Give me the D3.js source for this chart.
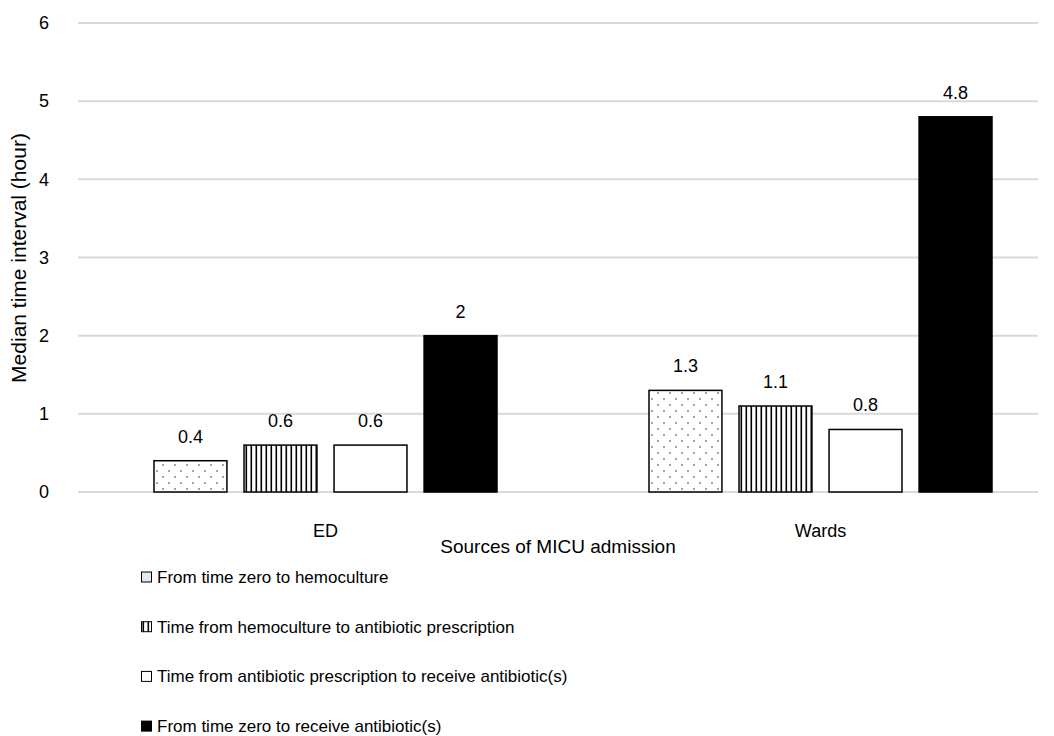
<!DOCTYPE html>
<meta charset="utf-8">
<script src="https://d3js.org/d3.v7.min.js"></script>
<style>
body { margin: 0; background: #fff; }
text { font-family: "Liberation Sans", Arial, sans-serif; fill: #000; }
</style>
<div id="chart"></div>
<script>

// data
var sources = ["ED", "Wards"];
var series = [
  "From time zero to hemoculture",
  "Time from hemoculture to antibiotic prescription",
  "Time from antibiotic prescription to receive antibiotic(s)",
  "From time zero to receive antibiotic(s)"
];
var edValues = [0.4, 0.6, 0.6, 2];
var wardsValues = [1.3, 1.1, 0.8, 4.8];
var yTicks = [0, 1, 2, 3, 4, 5, 6];

var width = 1054, height = 736;

var svg = d3.select("#chart").append("svg")
  .attr("width", width)
  .attr("height", height);

// patterns for the bar fills
var defs = svg.append("defs");
var dots = defs.append("pattern")
  .attr("id", "dots")
  .attr("patternUnits", "userSpaceOnUse")
  .attr("width", 12).attr("height", 12);
dots.append("rect").attr("width", 12).attr("height", 12).attr("fill", "#fff");
dots.append("circle").attr("cx", 3).attr("cy", 3).attr("r", 0.8).attr("fill", "#333");
dots.append("circle").attr("cx", 9).attr("cy", 9).attr("r", 0.8).attr("fill", "#333");

var stripes = defs.append("pattern")
  .attr("id", "stripes")
  .attr("patternUnits", "userSpaceOnUse")
  .attr("width", 5).attr("height", 10);
stripes.append("rect").attr("width", 5).attr("height", 10).attr("fill", "#fff");
stripes.append("rect").attr("x", 1.5).attr("width", 1.6).attr("height", 10).attr("fill", "#000");

var fills = ["url(#dots)", "url(#stripes)", "#fff", "#000"];

// scales
var y = d3.scaleLinear().domain([0, 6]).range([492, 23]);
var x0 = d3.scaleBand().domain(sources).range([78, 1068]);
var x1 = d3.scaleBand().domain(series).range([0, 343]).paddingInner(0.19);

// gridlines
svg.append("g")
  .selectAll("line")
  .data(yTicks)
  .enter().append("line")
    .attr("x1", 78).attr("x2", 1038)
    .attr("y1", function(d) { return y(d); })
    .attr("y2", function(d) { return y(d); })
    .attr("stroke", "#d9d9d9")
    .attr("stroke-width", 2);

// y axis (labels only)
var yAxis = svg.append("g")
  .attr("transform", "translate(60,0)")
  .call(d3.axisLeft(y).tickValues(yTicks).tickSize(0).tickPadding(0).tickFormat(d3.format("d")));
yAxis.select(".domain").remove();
yAxis.selectAll("text")
  .style("font-size", "18px")
  .style("font-family", "Liberation Sans, Arial, sans-serif")
  .attr("fill", "#000")
  .attr("x", -11);

svg.append("text")
  .attr("transform", "translate(26,258) rotate(-90)")
  .attr("text-anchor", "middle")
  .style("font-size", "21px")
  .text("Median time interval (hour)");

// bars
var rows = [edValues, wardsValues];
var groups = svg.append("g")
  .selectAll("g")
  .data(sources)
  .enter().append("g")
    .attr("transform", function(d) { return "translate(" + (x0(d) + (x0.bandwidth() - 343) / 2) + ",0)"; });

groups.selectAll("rect")
  .data(function(d, i) { return rows[i].map(function(v, j) { return {key: series[j], value: v, idx: j}; }); })
  .enter().append("rect")
    .attr("x", function(d) { return x1(d.key); })
    .attr("y", function(d) { return y(d.value); })
    .attr("width", x1.bandwidth())
    .attr("height", function(d) { return y(0) - y(d.value); })
    .attr("fill", function(d) { return fills[d.idx]; })
    .attr("stroke", "#000")
    .attr("stroke-width", 1.5);

groups.selectAll("text.val")
  .data(function(d, i) { return rows[i].map(function(v, j) { return {key: series[j], value: v}; }); })
  .enter().append("text")
    .attr("class", "val")
    .attr("x", function(d) { return x1(d.key) + x1.bandwidth() / 2; })
    .attr("y", function(d) { return y(d.value) - 18; })
    .attr("text-anchor", "middle")
    .style("font-size", "18px")
    .text(function(d) { return d.value; });

// x axis labels
svg.append("g")
  .selectAll("text")
  .data(sources)
  .enter().append("text")
    .attr("x", function(d) { return x0(d) + x0.bandwidth() / 2; })
    .attr("y", 537)
    .attr("text-anchor", "middle")
    .style("font-size", "18px")
    .text(function(d) { return d; });

svg.append("text")
  .attr("x", 558)
  .attr("y", 553)
  .attr("text-anchor", "middle")
  .style("font-size", "19px")
  .text("Sources of MICU admission");

// legend
var legend = svg.append("g")
  .selectAll("g")
  .data(series)
  .enter().append("g")
    .attr("transform", function(d, i) { return "translate(141," + (577 + i * 49.7) + ")"; });

legend.append("rect")
  .attr("x", 0.5).attr("y", -5)
  .attr("width", 10).attr("height", 10)
  .attr("fill", function(d, i) { return i == 0 ? "#e8e8e8" : fills[i]; })
  .attr("stroke", "#000")
  .attr("stroke-width", 1);

legend.append("text")
  .attr("x", 16)
  .attr("y", 6)
  .style("font-size", "17px")
  .text(function(d) { return d; });

</script>
